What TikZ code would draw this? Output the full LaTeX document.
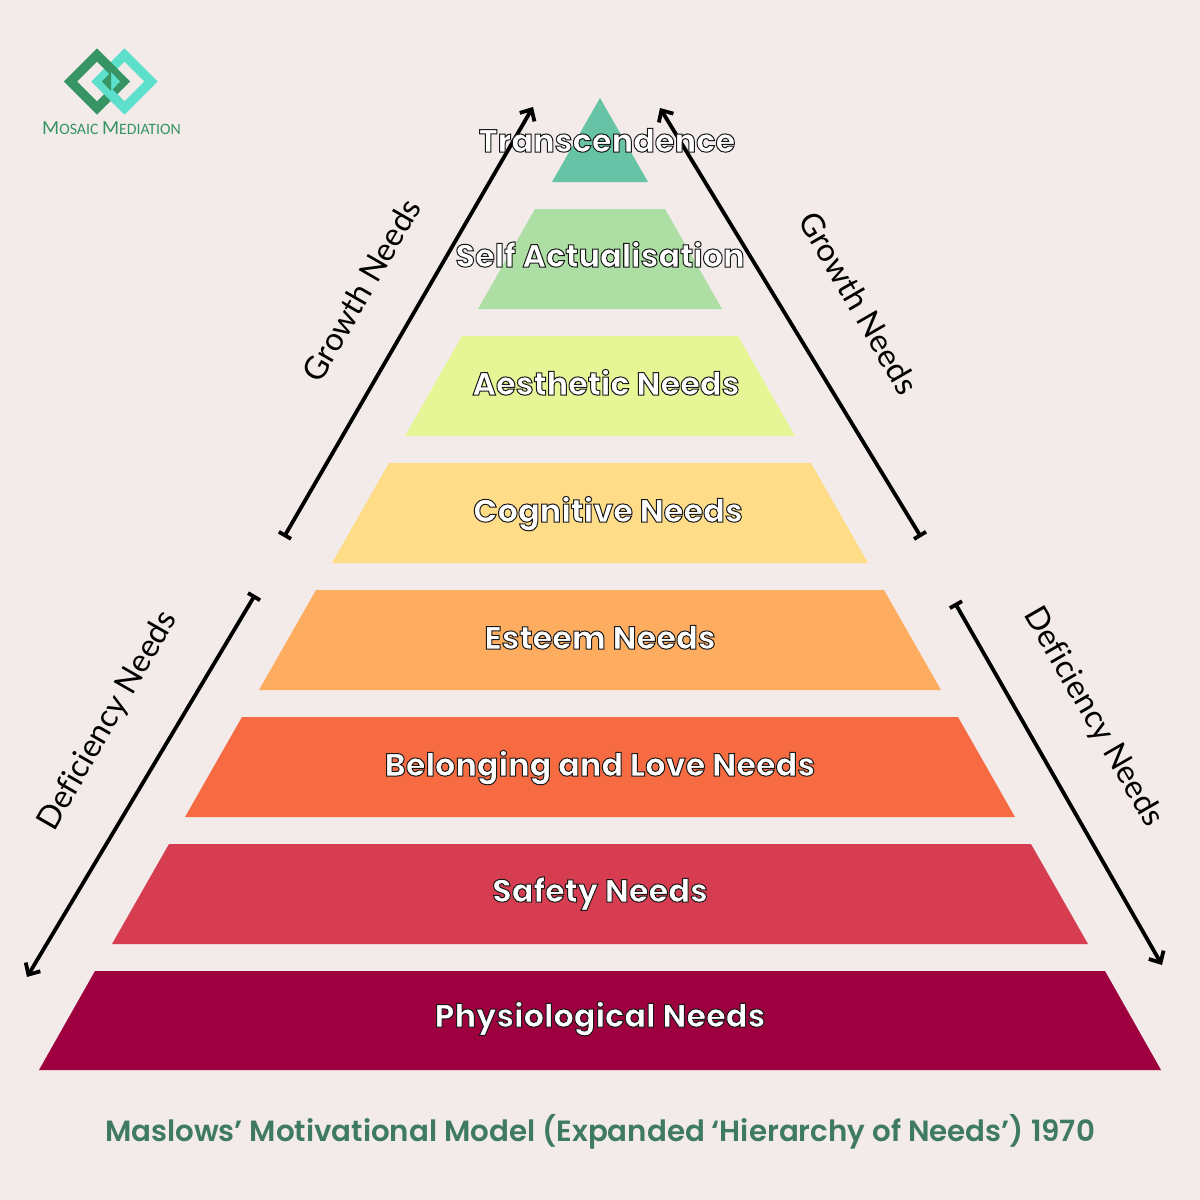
\documentclass[tikz,border=0pt]{standalone}
\usepackage{fontspec}
\usetikzlibrary{arrows.meta}
\setmainfont{Poppins}
\newfontfamily\popsb{Poppins SemiBold}
\newfontfamily\sidef{Lato}[Ligatures=NoCommon]
\newfontfamily\logofont{Carlito}
\definecolor{bgc}{HTML}{F2EBE9}
\definecolor{c1}{HTML}{9E003F}
\definecolor{c2}{HTML}{D63D50}
\definecolor{c3}{HTML}{F66B42}
\definecolor{c4}{HTML}{FEAD60}
\definecolor{c5}{HTML}{FFDD88}
\definecolor{c6}{HTML}{E6F595}
\definecolor{c7}{HTML}{ADDEA4}
\definecolor{c8}{HTML}{66C3A5}
\definecolor{ttl}{HTML}{3F7A62}
\definecolor{logoA}{HTML}{379465}
\definecolor{logoB}{HTML}{5CE0CB}
\newcommand{\outl}[1]{\special{pdf:code q 1 1 1 rg 0.1 0.1 0.1 RG 1 w 2 Tr}#1\special{pdf:code 0 Tr Q}}
\tikzset{
  lbl/.style={font=\bfseries\fontsize{32}{34}\selectfont,text=white,inner sep=0pt,anchor=base},
  side/.style={font=\sidef\fontsize{32}{34}\selectfont,text=black,inner sep=0pt,anchor=center},
  ar/.style={draw=black,line width=3.8pt,{Bar[width=14pt,length=3pt]}-{Straight Barb[length=9pt,width=17pt,line width=3.8pt]}},
}
\begin{document}
\begin{tikzpicture}[x=1pt,y=-1pt]
\useasboundingbox (0,0) rectangle (1200,1200);
\fill[bgc] (0,0) rectangle (1200,1200);
% layers
\fill[c1] (39,1070) -- (95,971) -- (1105,971) -- (1161,1070) -- cycle;
\fill[c2] (112,944) -- (169,844) -- (1031,844) -- (1088,944) -- cycle;
\fill[c3] (185,817) -- (242,717) -- (958,717) -- (1015,817) -- cycle;
\fill[c4] (259,690) -- (316,590) -- (884,590) -- (941,690) -- cycle;
\fill[c5] (332,563) -- (389,463) -- (811,463) -- (868,563) -- cycle;
\fill[c6] (405,436) -- (462,336) -- (738,336) -- (795,436) -- cycle;
\fill[c7] (478,309) -- (535,209) -- (665,209) -- (722,309) -- cycle;
\fill[c8] (552,182) -- (600,98) -- (648,182) -- cycle;
% arrows
\coordinate (g1a) at (284,537); \coordinate (g1b) at (533,107);
\coordinate (g2a) at (921,537); \coordinate (g2b) at (660,108);
\coordinate (d1a) at (255,595); \coordinate (d1b) at (27,977);
\coordinate (d2a) at (955,603); \coordinate (d2b) at (1162,965);
\draw[ar] (g1a) -- (g1b);
\draw[ar] (g2a) -- (g2b);
\draw[ar] (d1a) -- (d1b);
\draw[ar] (d2a) -- (d2b);
% labels
\node[lbl] (l1) at (600,1027) {\outl{Physiological Needs}};
\node[lbl] (l2) at (600,902) {\outl{Safety Needs}};
\node[lbl] (l3) at (600,776) {\outl{Belonging and Love Needs}};
\node[lbl] (l4) at (600,649) {\outl{Esteem Needs}};
\node[lbl] (l5) at (608,522) {\outl{Cognitive Needs}};
\node[lbl] (l6) at (606,395) {\outl{Aesthetic Needs}};
\node[lbl] (l7) at (600,267) {\outl{Self Actualisation}};
\node[lbl] (l8) at (607,152) {\outl{Transcendence}};
% side
\node[side,rotate=60] (s1) at (361,290) {Growth Needs};
\node[side,rotate=-60] (s2) at (859,303) {Growth Needs};
\node[side,rotate=60] (s3) at (108,721) {Deficiency Needs};
\node[side,rotate=-60] (s4) at (1093,717) {Deficiency Needs};
% title
\node[font=\popsb\fontsize{29.3}{32}\selectfont,text=ttl,inner sep=0pt] (t) at (600,1132) {Maslows’ Motivational Model (Expanded ‘Hierarchy of Needs’) 1970};
% logo
\draw[logoB,line width=9.5pt] (124.5,55) -- (151,81.5) -- (124.5,108) -- (98,81.5) -- cycle;
\draw[logoA,line width=9.5pt] (97,55) -- (123.5,81.5) -- (97,108) -- (70.5,81.5) -- cycle;
\draw[logoB,line width=9.5pt] (103,86.5) -- (118,101.5);
\fill[logoB] (111,72) -- (120,81.5) -- (111,91) -- cycle;
\fill[logoA] (111,72) -- (102,81.5) -- (111,91) -- cycle;
\node[font=\logofont\fontsize{20}{20}\selectfont,text=logoA,inner sep=0pt] (lg) at (111.5,128) {M\fontsize{15.8}{20}\selectfont OSAIC \fontsize{20}{20}\selectfont M\fontsize{15.8}{20}\selectfont EDIATION};
\end{tikzpicture}
\end{document}
